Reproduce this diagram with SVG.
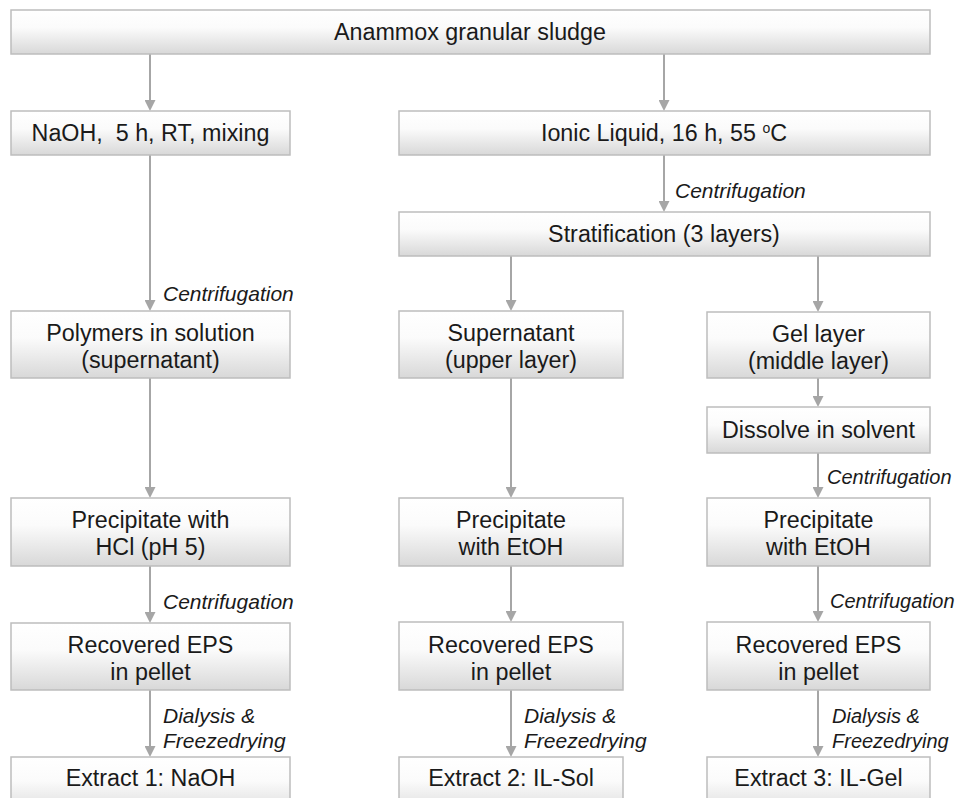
<svg xmlns="http://www.w3.org/2000/svg" width="957" height="798" viewBox="0 0 957 798">
<defs>
<linearGradient id="g" x1="0" y1="0" x2="0" y2="1">
<stop offset="0" stop-color="#ffffff"/>
<stop offset="0.4" stop-color="#fbfbfb"/>
<stop offset="1" stop-color="#d8d8d8"/>
</linearGradient>
<marker id="ah" viewBox="0 0 11 11" refX="0.5" refY="5.5" markerWidth="11" markerHeight="11" markerUnits="userSpaceOnUse" orient="auto">
<path d="M0,0 L11,5.5 L0,11 z" fill="#a6a6a6"/>
</marker>
<style>
.box{fill:url(#g);stroke:#bdbdbd;stroke-width:1.5}
.t{font-family:"Liberation Sans",Arial,sans-serif;font-size:23.3px;fill:#1a1a1a;text-anchor:middle}
.l{font-family:"Liberation Sans",Arial,sans-serif;font-size:21px;font-style:italic;fill:#1a1a1a}
.s{font-size:20px}
.c{stroke:#a6a6a6;stroke-width:2;fill:none;marker-end:url(#ah)}
</style>
</defs>
<rect width="957" height="798" fill="#ffffff"/>

<g id="connectors">
<line class="c" x1="150" y1="54" x2="150" y2="100.5"/>
<line class="c" x1="664" y1="54" x2="664" y2="100.5"/>
<line class="c" x1="664" y1="155" x2="664" y2="201.5"/>
<line class="c" x1="150" y1="155" x2="150" y2="300.5"/>
<line class="c" x1="511" y1="256" x2="511" y2="300.5"/>
<line class="c" x1="818" y1="256" x2="818" y2="301.5"/>
<line class="c" x1="818" y1="378" x2="818" y2="396.5"/>
<line class="c" x1="150" y1="378" x2="150" y2="487.5"/>
<line class="c" x1="511" y1="378" x2="511" y2="487.5"/>
<line class="c" x1="818" y1="453" x2="818" y2="487.5"/>
<line class="c" x1="150" y1="566" x2="150" y2="612.5"/>
<line class="c" x1="511" y1="566" x2="511" y2="611.5"/>
<line class="c" x1="818" y1="566" x2="818" y2="611.5"/>
<line class="c" x1="150" y1="690" x2="150" y2="746.5"/>
<line class="c" x1="511" y1="690" x2="511" y2="746.5"/>
<line class="c" x1="818" y1="690" x2="818" y2="746.5"/>
<text class="l" x="675" y="198">Centrifugation</text>
<text class="l" x="163" y="301">Centrifugation</text>
<text class="l s" x="827" y="484">Centrifugation</text>
<text class="l" x="163" y="609">Centrifugation</text>
<text class="l s" x="830" y="608">Centrifugation</text>
<text class="l" x="163" y="723">Dialysis &amp;</text>
<text class="l" x="163" y="748">Freezedrying</text>
<text class="l" x="524" y="723">Dialysis &amp;</text>
<text class="l" x="524" y="748">Freezedrying</text>
<text class="l s" x="832" y="723">Dialysis &amp;</text>
<text class="l s" x="832" y="748">Freezedrying</text>
</g>

<g id="n-top">
<rect class="box" x="11" y="10" width="919" height="44"/>
<text class="t" x="470" y="40">Anammox granular sludge</text>
</g>
<g id="n-naoh">
<rect class="box" x="11" y="111" width="279" height="44"/>
<text class="t" x="150.5" y="141" xml:space="preserve">NaOH,  5 h, RT, mixing</text>
</g>
<g id="n-ionic">
<rect class="box" x="399" y="111" width="531" height="44"/>
<text class="t" x="664" y="141">Ionic Liquid, 16 h, 55 <tspan font-size="14" dy="-8">o</tspan><tspan dy="8">C</tspan></text>
</g>
<g id="n-strat">
<rect class="box" x="399" y="212" width="531" height="44"/>
<text class="t" x="664" y="242">Stratification (3 layers)</text>
</g>
<g id="n-polymers">
<rect class="box" x="11" y="311" width="279" height="67"/>
<text class="t" x="150.5" y="341">Polymers in solution</text>
<text class="t" x="150.5" y="368">(supernatant)</text>
</g>
<g id="n-super">
<rect class="box" x="399" y="311" width="224" height="67"/>
<text class="t" x="511" y="341">Supernatant</text>
<text class="t" x="511" y="368">(upper layer)</text>
</g>
<g id="n-gel">
<rect class="box" x="707" y="312" width="223" height="66"/>
<text class="t" x="818.5" y="342">Gel layer</text>
<text class="t" x="818.5" y="369">(middle layer)</text>
</g>
<g id="n-dissolve">
<rect class="box" x="707" y="407" width="223" height="46"/>
<text class="t" x="818.5" y="438">Dissolve in solvent</text>
</g>
<g id="n-precip1">
<rect class="box" x="11" y="498" width="279" height="68"/>
<text class="t" x="150.5" y="528">Precipitate with</text>
<text class="t" x="150.5" y="555">HCl (pH 5)</text>
</g>
<g id="n-precip2">
<rect class="box" x="399" y="498" width="224" height="68"/>
<text class="t" x="511" y="528">Precipitate</text>
<text class="t" x="511" y="555">with EtOH</text>
</g>
<g id="n-precip3">
<rect class="box" x="707" y="498" width="223" height="68"/>
<text class="t" x="818.5" y="528">Precipitate</text>
<text class="t" x="818.5" y="555">with EtOH</text>
</g>
<g id="n-rec1">
<rect class="box" x="11" y="623" width="279" height="67"/>
<text class="t" x="150.5" y="653">Recovered EPS</text>
<text class="t" x="150.5" y="680">in pellet</text>
</g>
<g id="n-rec2">
<rect class="box" x="399" y="622" width="224" height="68"/>
<text class="t" x="511" y="653">Recovered EPS</text>
<text class="t" x="511" y="680">in pellet</text>
</g>
<g id="n-rec3">
<rect class="box" x="707" y="622" width="223" height="68"/>
<text class="t" x="818.5" y="653">Recovered EPS</text>
<text class="t" x="818.5" y="680">in pellet</text>
</g>
<g id="n-ext1">
<rect class="box" x="11" y="757" width="279" height="60"/>
<text class="t" x="150.5" y="786">Extract 1: NaOH</text>
</g>
<g id="n-ext2">
<rect class="box" x="399" y="757" width="224" height="60"/>
<text class="t" x="511" y="786">Extract 2: IL-Sol</text>
</g>
<g id="n-ext3">
<rect class="box" x="707" y="757" width="223" height="60"/>
<text class="t" x="818.5" y="786">Extract 3: IL-Gel</text>
</g>
</svg>
